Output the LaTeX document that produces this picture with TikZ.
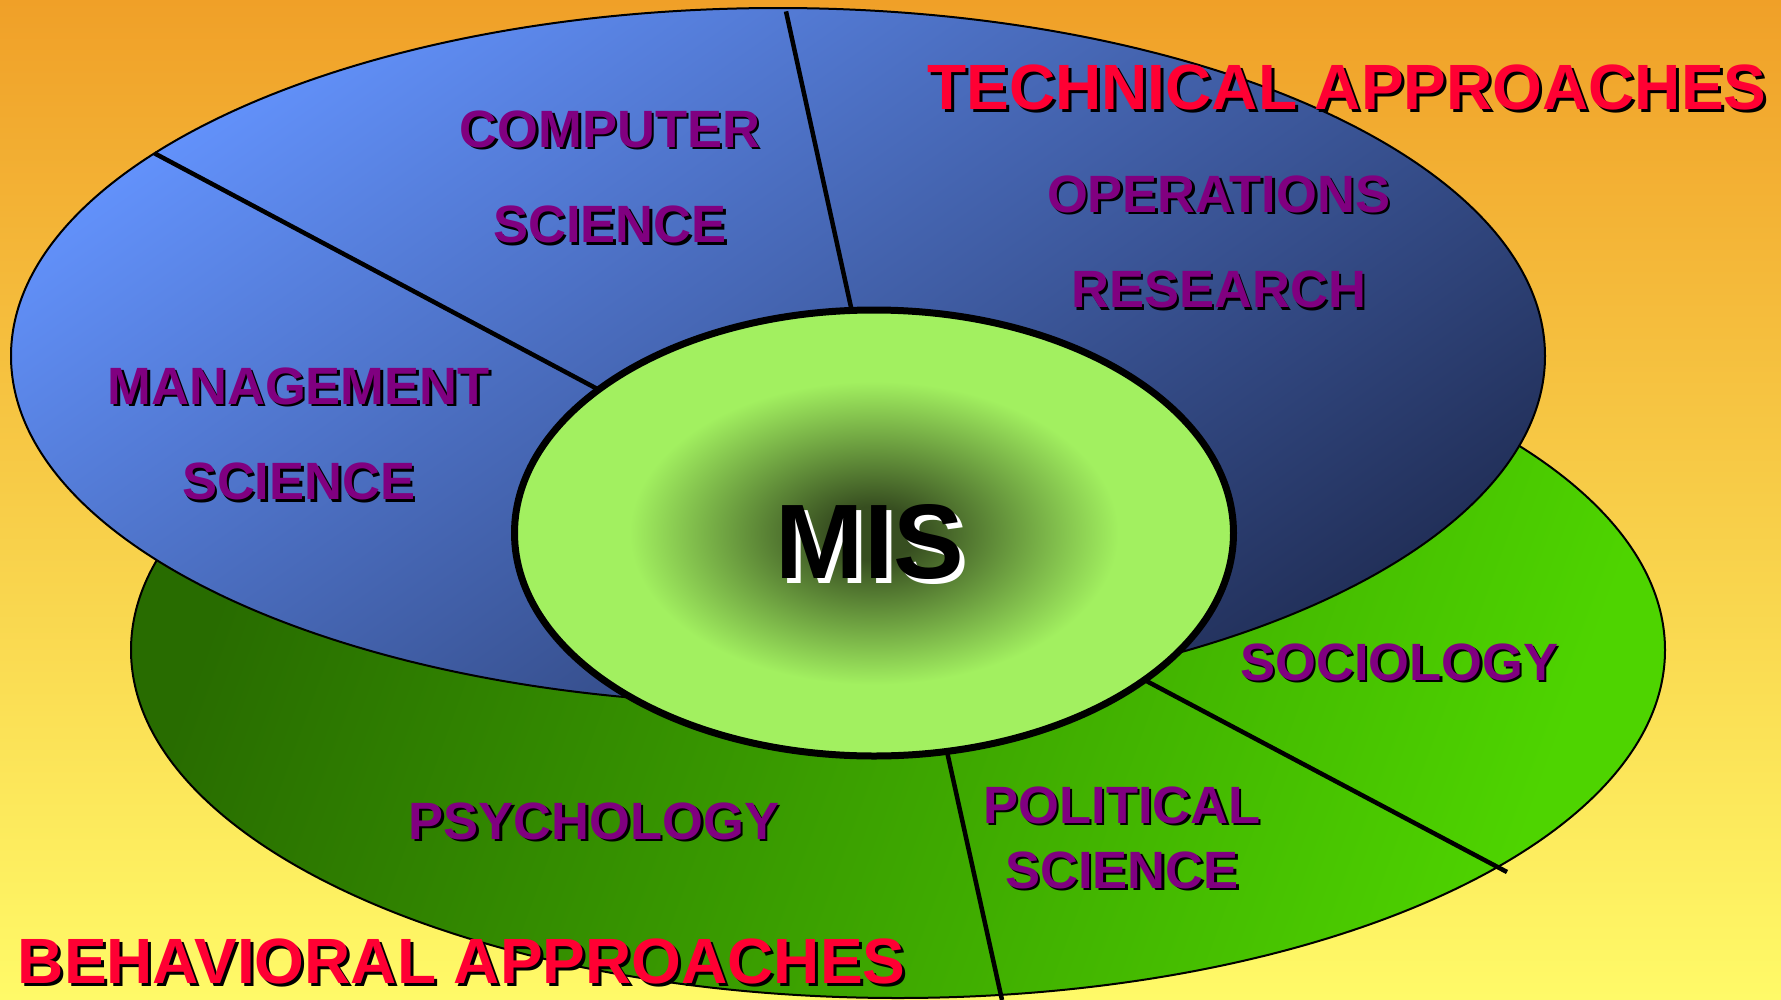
\documentclass[tikz,border=0pt]{standalone}
\usepackage{fontspec}
\setmainfont{Liberation Sans}
\definecolor{bgtop}{RGB}{240,160,40}
\definecolor{bgbot}{RGB}{255,250,104}
\definecolor{bluelight}{RGB}{98,145,250}
\definecolor{bluemid}{RGB}{70,108,196}
\definecolor{bluedark}{RGB}{34,48,90}
\definecolor{greendark}{RGB}{40,108,0}
\definecolor{greenlight}{RGB}{78,212,0}
\definecolor{misdark}{RGB}{55,78,32}
\definecolor{mislight}{RGB}{162,240,96}
\definecolor{lblpurple}{RGB}{128,0,128}
\definecolor{titlered}{RGB}{255,0,51}
\pgfdeclareradialshading{misshade}{\pgfpoint{0bp}{0bp}}{color(0bp)=(misdark); color(3bp)=(misdark); color(17bp)=(mislight); color(25bp)=(mislight); color(50bp)=(mislight)}
\newcommand\shadowtxt[3][2.5pt]{\leavevmode\rlap{\kern#1\raisebox{-#1}{\textcolor{#2}{#3}}}#3}
\tikzset{
  lbl/.style={inner sep=0pt, text=lblpurple, font=\bfseries\fontsize{52.5}{52.5}\selectfont},
  ttl/.style={inner sep=0pt, text=titlered, font=\bfseries\fontsize{64}{64}\selectfont},
  divider/.style={line width=4.5pt, black},
  rim/.style={draw=black, line width=2pt}
}
\begin{document}
\begin{tikzpicture}[x=1pt,y=-1pt]
\useasboundingbox (0,0) rectangle (1781,999);
\shade[top color=bgtop, bottom color=bgbot] (0,0) rectangle (1781,999);
% green (behavioral) ellipse
\shade[rim, left color=greendark, right color=greenlight, shading angle=70]
  (898,650) ellipse [x radius=767pt, y radius=348pt];
\coordinate (g1a) at (940,720);
\coordinate (g1b) at (1002,1000);
\coordinate (g2a) at (1120,667);
\coordinate (g2b) at (1507,872);
\draw[divider] (g1a) -- (g1b);
\draw[divider] (g2a) -- (g2b);
% blue (technical) ellipse
\shade[rim, top color=bluelight, middle color=bluemid, bottom color=bluedark, shading angle=35]
  (778,356) ellipse [x radius=767pt, y radius=348pt];
\coordinate (b1a) at (154.5,153.3);
\coordinate (b1b) at (620,401);
\coordinate (b2a) at (786,11.4);
\coordinate (b2b) at (856,330);
\draw[divider] (b1a) -- (b1b);
\draw[divider] (b2a) -- (b2b);
% MIS core
\path[shading=misshade, draw=black, line width=7pt]
  (874,533) ellipse [x radius=359.5pt, y radius=223pt];
% labels
\node[lbl] (cs1) at (610,130.6) {\shadowtxt{black}{COMPUTER}};
\node[lbl] (cs2) at (610,226) {\shadowtxt{black}{SCIENCE}};
\node[lbl] (or1) at (1218.7,195.4) {\shadowtxt{black}{OPERATIONS}};
\node[lbl] (or2) at (1218.7,290.8) {\shadowtxt{black}{RESEARCH}};
\node[lbl] (ms1) at (298.7,387.3) {\shadowtxt{black}{MANAGEMENT}};
\node[lbl] (ms2) at (298.7,482.7) {\shadowtxt{black}{SCIENCE}};
\node[lbl] (soc) at (1399.3,663.3) {\shadowtxt{black}{SOCIOLOGY}};
\node[lbl] (psy) at (594,822.3) {\shadowtxt{black}{PSYCHOLOGY}};
\node[lbl] (ps1) at (1122,806.4) {\shadowtxt{black}{POLITICAL}};
\node[lbl] (ps2) at (1122,871.2) {\shadowtxt{black}{SCIENCE}};
\node[inner sep=0pt, text=black, font=\bfseries\fontsize{106}{106}\selectfont]
  (mis) at (870,545) {\shadowtxt[5pt]{white}{MIS}};
\node[ttl] (tech) at (1347,88.6) {\shadowtxt[3pt]{black}{TECHNICAL APPROACHES}};
\node[ttl] (behav) at (461.7,963) {\shadowtxt[3pt]{black}{BEHAVIORAL APPROACHES}};
\end{tikzpicture}
\end{document}
